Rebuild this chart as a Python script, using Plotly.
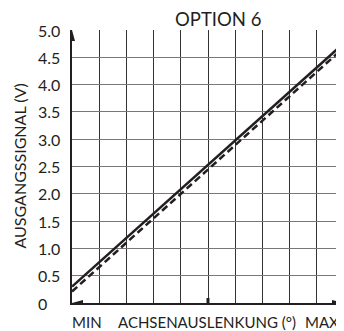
import plotly.graph_objects as go

# Data
x_pos = [0, 10]                 # MIN .. MAX of axis deflection (arbitrary units)
solid_v = [0.30, 4.76]          # output signal (V), solid line
dashed_v = [0.21, 4.68]         # output signal (V), dashed line
y_ticks = [0, 0.5, 1.0, 1.5, 2.0, 2.5, 3.0, 3.5, 4.0, 4.5, 5.0]
y_tick_labels = ["0", "0.5", "1.0", "1.5", "2.0", "2.5", "3.0", "3.5", "4.0", "4.5", "5.0"]
x_grid = list(range(0, 11))
title = "OPTION 6"
y_title = "AUSGANGSSIGNAL (V)"
x_labels = ["MIN", "ACHSENAUSLENKUNG (°)", "MAX"]

FONT = "Lato"
INK = "#231f20"
OFF = 8  # page body margin in the browser

fig = go.Figure()
fig.add_trace(go.Scatter(x=x_pos, y=solid_v, mode="lines",
                         line=dict(color=INK, width=2.5), showlegend=False))
fig.add_trace(go.Scatter(x=x_pos, y=dashed_v, mode="lines",
                         line=dict(color=INK, width=2.5, dash="7px,4px"), showlegend=False))

annotations = []
for v, t in zip(y_ticks, y_tick_labels):
    annotations.append(dict(x=0, xref="paper", y=v, yref="y", text=t, showarrow=False,
                            xanchor="left", yanchor="middle", xshift=-36,
                            font=dict(family=FONT, size=16, color=INK)))
annotations.append(dict(x=0, xref="paper", y=0.5, yref="paper", text=y_title, showarrow=False,
                        textangle=-90, xanchor="center", yanchor="middle", xshift=-53,
                        font=dict(family=FONT, size=16, color=INK)))
annotations.append(dict(x=x_pos[0], xref="x", y=0, yref="paper", text=x_labels[0], showarrow=False,
                        xanchor="left", yanchor="middle", yshift=-19, xshift=-2,
                        font=dict(family=FONT, size=15, color=INK)))
annotations.append(dict(x=(x_pos[0] + x_pos[1]) / 2, xref="x", y=0, yref="paper", text=x_labels[1],
                        showarrow=False, xanchor="center", yanchor="middle", yshift=-19, xshift=-1,
                        font=dict(family=FONT, size=15, color=INK)))
annotations.append(dict(x=x_pos[1], xref="x", y=0, yref="paper", text=x_labels[2], showarrow=False,
                        xanchor="right", yanchor="middle", yshift=-19, xshift=-3,
                        font=dict(family=FONT, size=15, color=INK)))
annotations.append(dict(x=0.5, xref="paper", y=1, yref="paper", text=title, showarrow=False,
                        xanchor="center", yanchor="middle", xshift=10, yshift=11,
                        font=dict(family=FONT, size=18.5, color=INK)))

shapes = [
    # up arrow on y axis
    dict(type="path", xref="x", yref="y", xsizemode="pixel", ysizemode="pixel",
         xanchor=0, yanchor=y_ticks[-1], path="M0,0 L-3,-11 L3,-11 Z",
         fillcolor=INK, line=dict(width=0)),
    # right arrow on x axis
    dict(type="path", xref="x", yref="y", xsizemode="pixel", ysizemode="pixel",
         xanchor=x_pos[1], yanchor=0, path="M-1,0 L-12,3 L-12,-3 Z",
         fillcolor=INK, line=dict(width=0)),
    # left arrow on x axis
    dict(type="path", xref="x", yref="y", xsizemode="pixel", ysizemode="pixel",
         xanchor=x_pos[0], yanchor=0, path="M0,0 L11,3 L11,-3 Z",
         fillcolor=INK, line=dict(width=0)),
    # middle tick
    dict(type="line", xref="x", yref="y", ysizemode="pixel", yanchor=0,
         x0=5, x1=5, y0=-5, y1=5, line=dict(color=INK, width=3)),
]

fig.update_layout(
    width=344 - OFF, height=331 - OFF,
    margin=dict(l=72 - OFF, r=0, t=30 - OFF, b=28, pad=0),
    paper_bgcolor="white", plot_bgcolor="white",
    annotations=annotations, shapes=shapes,
    xaxis=dict(range=[x_grid[0], x_grid[-1]], tickvals=x_grid, showticklabels=False, ticks="",
               showgrid=True, gridcolor="#333", gridwidth=1, zeroline=False,
               showline=True, linecolor=INK, linewidth=1.5),
    yaxis=dict(range=[y_ticks[0], y_ticks[-1]], tickvals=y_ticks, showticklabels=False, ticks="",
               showgrid=True, gridcolor="#777", gridwidth=1, zeroline=False,
               showline=True, linecolor=INK, linewidth=1.5),
)

fig.write_html("out.html")
